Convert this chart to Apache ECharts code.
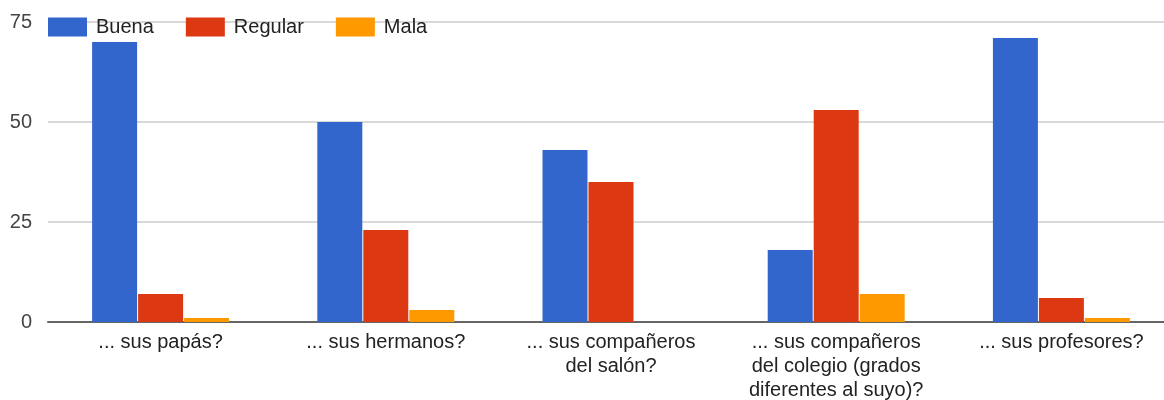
<!DOCTYPE html>
<html><head><meta charset="utf-8">
<script src="https://cdn.jsdelivr.net/npm/echarts@6/dist/echarts.min.js"></script>
<style>html,body{margin:0;padding:0;background:#fff}#c{width:1164px;height:400px}</style>
</head><body><div id="c"></div>
<script>
const categories = ["... sus papás?", "... sus hermanos?", "... sus compañeros\ndel salón?", "... sus compañeros\ndel colegio (grados\ndiferentes al suyo)?", "... sus profesores?"];
const buena = [70, 50, 43, 18, 71];
const regular = [7, 23, 35, 53, 6];
const mala = [1, 3, 0, 7, 1];
const yTicks = [0, 25, 50, 75];

const chart = echarts.init(document.getElementById('c'));
const font = 'Liberation Sans, Arial, sans-serif';
chart.setOption({
  animation: false,
  textStyle: { fontFamily: font },
  color: ['#3366cc', '#dc3912', '#ff9900'],
  legend: {
    left: 43, top: 12, itemWidth: 39, itemHeight: 19, itemGap: 32,
    icon: 'rect',
    textStyle: { fontSize: 20, color: '#222', fontFamily: font, padding: [0, 0, 0, 4] },
    data: ['Buena', 'Regular', 'Mala']
  },
  grid: { left: 48, width: 1126, top: 22, bottom: 78, containLabel: false, outerBoundsMode: 'none' },
  xAxis: {
    type: 'category', data: categories,
    axisTick: { show: false },
    axisLine: { lineStyle: { color: '#666', width: 2 } },
    axisLabel: { fontSize: 20, color: '#222', lineHeight: 24, margin: 8, interval: 0, fontFamily: font }
  },
  yAxis: {
    type: 'value', min: yTicks[0], max: yTicks[yTicks.length - 1], interval: 25,
    axisLabel: { fontSize: 20, color: '#444', margin: 16, fontFamily: font },
    splitLine: { lineStyle: { color: '#ccc', width: 1.5 } },
    axisLine: { show: false }, axisTick: { show: false }
  },
  series: [
    { name: 'Buena', type: 'bar', data: buena, barWidth: 45, barGap: '2.2%' },
    { name: 'Regular', type: 'bar', data: regular, barWidth: 45, barGap: '2.2%' },
    { name: 'Mala', type: 'bar', data: mala, barWidth: 45, barGap: '2.2%' }
  ]
});
</script></body></html>
